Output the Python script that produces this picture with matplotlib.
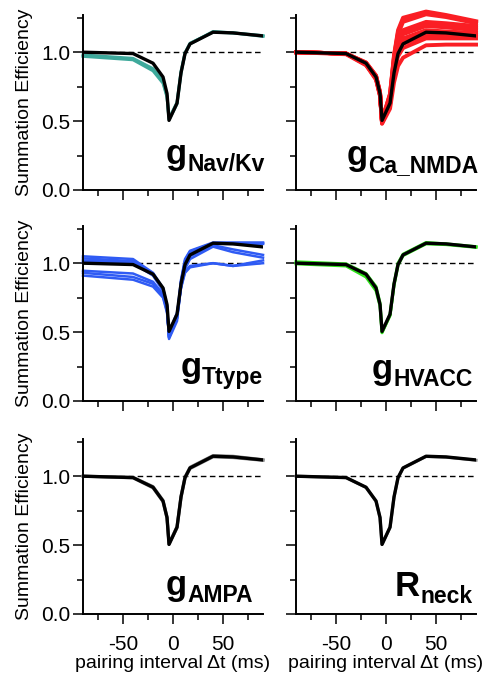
import numpy as np
import matplotlib
matplotlib.use("Agg")
import matplotlib.pyplot as plt
from matplotlib.ticker import MultipleLocator

plt.rcParams['font.family'] = ['Liberation Sans', 'DejaVu Sans']
plt.rcParams['axes.unicode_minus'] = False

# pairing interval (ms)
dt = [-90, -40, -20, -10, -6, -4, 4, 8, 12, 17, 40, 60, 90]

# control (black) curve
control = [1.0, 0.99, 0.92, 0.82, 0.70, 0.505, 0.63, 0.85, 0.99, 1.06, 1.145, 1.14, 1.118]

# parameter sweeps, one list per curve
nav_kv = [
    [0.98, 0.955, 0.88, 0.79, 0.68, 0.51, 0.625, 0.85, 0.99, 1.06, 1.15, 1.14, 1.12],
    [0.97, 0.945, 0.865, 0.775, 0.675, 0.52, 0.635, 0.86, 0.995, 1.065, 1.145, 1.14, 1.115],
]
ca_nmda = [
    [1.0, 0.99, 0.925, 0.83, 0.71, 0.505, 0.70, 0.98, 1.16, 1.25, 1.295, 1.27, 1.225],
    [1.0, 0.99, 0.925, 0.83, 0.71, 0.505, 0.695, 0.97, 1.145, 1.235, 1.285, 1.262, 1.218],
    [1.0, 0.99, 0.92, 0.825, 0.705, 0.50, 0.69, 0.96, 1.13, 1.22, 1.275, 1.255, 1.21],
    [1.0, 0.99, 0.92, 0.82, 0.70, 0.495, 0.67, 0.93, 1.10, 1.16, 1.22, 1.21, 1.19],
    [1.0, 0.99, 0.92, 0.82, 0.70, 0.495, 0.665, 0.92, 1.085, 1.145, 1.205, 1.195, 1.175],
    [1.0, 0.99, 0.915, 0.815, 0.695, 0.49, 0.66, 0.91, 1.07, 1.13, 1.19, 1.18, 1.16],
    [1.0, 0.99, 0.915, 0.81, 0.69, 0.49, 0.65, 0.89, 1.04, 1.10, 1.16, 1.15, 1.14],
    [1.0, 0.99, 0.91, 0.81, 0.69, 0.49, 0.64, 0.875, 1.02, 1.08, 1.14, 1.135, 1.125],
    [1.0, 0.99, 0.91, 0.81, 0.69, 0.485, 0.63, 0.86, 1.00, 1.06, 1.12, 1.12, 1.11],
    [1.0, 0.99, 0.91, 0.805, 0.685, 0.485, 0.62, 0.84, 0.97, 1.03, 1.10, 1.10, 1.10],
    [1.0, 0.985, 0.905, 0.80, 0.68, 0.48, 0.59, 0.78, 0.90, 0.96, 1.05, 1.055, 1.055],
]
ttype = [
    [1.05, 1.03, 0.93, 0.82, 0.69, 0.47, 0.62, 0.88, 1.03, 1.09, 1.15, 1.15, 1.15],
    [1.035, 1.015, 0.925, 0.815, 0.69, 0.465, 0.61, 0.87, 1.02, 1.085, 1.145, 1.145, 1.145],
    [1.02, 1.005, 0.915, 0.81, 0.685, 0.46, 0.60, 0.86, 1.01, 1.08, 1.14, 1.14, 1.14],
    [1.01, 1.0, 0.91, 0.80, 0.68, 0.45, 0.58, 0.84, 0.98, 1.05, 1.13, 1.10, 1.06],
    [0.945, 0.925, 0.865, 0.775, 0.665, 0.46, 0.60, 0.82, 0.96, 1.03, 1.12, 1.08, 1.04],
    [0.93, 0.90, 0.85, 0.76, 0.65, 0.48, 0.62, 0.83, 0.94, 0.98, 1.00, 0.98, 1.02],
    [0.91, 0.88, 0.83, 0.75, 0.64, 0.50, 0.64, 0.82, 0.93, 0.97, 1.00, 0.98, 1.00],
]
hvacc = [
    [1.01, 0.995, 0.925, 0.83, 0.71, 0.50, 0.62, 0.85, 1.0, 1.065, 1.15, 1.14, 1.12],
    [0.995, 0.98, 0.90, 0.80, 0.69, 0.495, 0.625, 0.84, 0.985, 1.055, 1.14, 1.135, 1.115],
]
ampa = [
    [1.0, 0.988, 0.915, 0.815, 0.695, 0.505, 0.625, 0.845, 0.985, 1.055, 1.14, 1.135, 1.115],
    [1.0, 0.992, 0.925, 0.825, 0.705, 0.51, 0.635, 0.855, 0.995, 1.065, 1.15, 1.145, 1.12],
]
rneck = [
    [1.0, 0.99, 0.918, 0.818, 0.698, 0.505, 0.628, 0.848, 0.988, 1.058, 1.143, 1.138, 1.116],
]

panels = [
    (nav_kv, '#3ea99b', 2.2, 'g', 'Nav/Kv', 0.46, 0.15),
    (ca_nmda, '#fa1e24', 2.8, 'g', 'Ca_NMDA', 0.28, 0.14),
    (ttype, '#2f5bf4', 1.8, 'g', 'Ttype', 0.54, 0.135),
    (hvacc, '#2ee01a', 2.2, 'g', 'HVACC', 0.42, 0.125),
    (ampa, '#8a8a8a', 2.2, 'g', 'AMPA', 0.46, 0.11),
    (rneck, '#8a8a8a', 2.2, 'R', 'neck', 0.55, 0.105),
]

fig = plt.figure(figsize=(4.88, 6.78), dpi=100)

lefts = [0.1701, 0.6066]
bottoms = [0.7198, 0.4086, 0.0944]
w, h = 0.3689, 0.2581

for i, (curves, color, lw, main, sub, tx, ty) in enumerate(panels):
    row, col = divmod(i, 2)
    ax = fig.add_axes([lefts[col], bottoms[row], w, h])

    ax.axhline(1.0, color='k', lw=1.0, ls=(0, (4, 2.5)), zorder=1)
    for c in curves:
        ax.plot(dt, c, color=color, lw=lw, solid_joinstyle='round', clip_on=False, zorder=2)
    ax.plot(dt, control, color='k', lw=2.4, solid_joinstyle='round', zorder=3)

    ax.set_xlim(-90, 90)
    ax.set_ylim(0, 1.27)
    ax.spines[['top', 'right']].set_visible(False)
    ax.spines[['left', 'bottom']].set_linewidth(1.4)

    ax.xaxis.set_major_locator(MultipleLocator(50))
    ax.xaxis.set_minor_locator(MultipleLocator(25))
    ax.yaxis.set_major_locator(MultipleLocator(0.5))
    ax.yaxis.set_minor_locator(MultipleLocator(0.25))
    ax.tick_params(which='major', length=7, width=1.1, labelsize=15, pad=2)
    ax.tick_params(which='minor', length=4, width=1.1)
    ax.tick_params(axis='x', which='major', pad=8)
    ax.set_yticks([0.0, 0.5, 1.0], ['0.0', '0.5', '1.0'])

    if row < 2:
        ax.tick_params(axis='x', labelbottom=False)
    else:
        ax.set_xlabel('pairing interval Δt (ms)', fontsize=14, labelpad=1)
    if col == 1:
        ax.tick_params(axis='y', labelleft=False)
    else:
        ax.set_ylabel('Summation Efficiency', fontsize=14, labelpad=6)

    t = ax.text(tx, ty, main, transform=ax.transAxes, fontsize=25,
                fontweight='bold', ha='left', va='baseline')
    ax.annotate(sub, xy=(1, ty), xycoords=(t, 'axes fraction'),
                xytext=(0.5, -5), textcoords='offset points',
                fontsize=16.5, fontweight='bold', ha='left', va='baseline',
                annotation_clip=False)

fig.savefig('out.png', dpi=100)
